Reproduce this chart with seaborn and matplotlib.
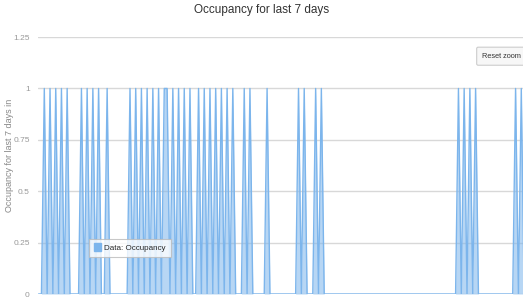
import numpy as np
import pandas as pd
import matplotlib.pyplot as plt
import seaborn as sns

# ----- Data (hourly samples, 1 = occupied) -----
n_hours = 172
occupied_hours = [2, 4, 6, 8, 10, 15, 17, 19, 21, 24,
                  32, 34, 36, 38, 40, 42, 44, 45, 47, 49, 51, 53, 56, 58,
                  60, 62, 64, 66, 68, 72, 74, 80, 91, 93, 97, 99,
                  147, 149, 151, 153, 167, 169]
y_ticks = [0, 0.25, 0.5, 0.75, 1, 1.25]
y_labels = ["0", "0.25", "0.5", "0.75", "1", "1.25"]

occ = np.zeros(n_hours)
occ[occupied_hours] = 1
df = pd.DataFrame({"hour": np.arange(n_hours), "occupancy": occ})

# ----- Plot -----
sns.set_style("white")
plt.rcParams["font.family"] = ["Liberation Sans", "DejaVu Sans"]

line_col = "#7cb5ec"
fig = plt.figure(figsize=(5.23, 2.99), dpi=100)
ax = fig.add_axes([0.0727, 0.0167, 0.9273, 0.8593])

sns.lineplot(data=df, x="hour", y="occupancy", ax=ax, color=line_col,
             linewidth=1.0, legend=False)
ax.fill_between(df["hour"], df["occupancy"], color=line_col, alpha=0.55, lw=0)

ax.set_xlim(-0.2, 169.6)
ax.set_ylim(0, 1.25)
ax.set_yticks(y_ticks)
ax.set_yticklabels(y_labels, fontsize=6, color="#999999")
ax.tick_params(axis="y", length=0, pad=6)
ax.set_xticks([])
ax.set_xlabel("")
ax.set_ylabel("Occupancy for last 7 days in", fontsize=6.5, color="#888888")
ax.yaxis.set_label_coords(-0.05, 0.54)
ax.yaxis.grid(True, color="#d8d8d8", linewidth=1)
for s in ax.spines.values():
    s.set_visible(False)

fig.suptitle("Occupancy for last 7 days", fontsize=8.5, color="#333333", y=0.985)

# legend box
patch = plt.Rectangle((0, 0), 1, 1, facecolor=line_col, edgecolor=line_col)
leg = fig.legend([patch], ["Data: Occupancy"], loc="center left",
                 bbox_to_anchor=(0.17, 0.172), fontsize=5.8, frameon=True,
                 fancybox=False, handlelength=0.9, handleheight=1.0,
                 handletextpad=0.4, borderpad=0.6, borderaxespad=0)
leg.get_frame().set_edgecolor("#bbbbbb")
leg.get_frame().set_linewidth(0.8)

# reset zoom button
fig.text(0.922, 0.812, "Reset zoom", fontsize=5.3, color="#333333",
         va="center", ha="left",
         bbox=dict(boxstyle="round,pad=0.75,rounding_size=0.2",
                   facecolor="#f7f7f7", edgecolor="#cccccc", linewidth=0.8))

fig.savefig("out.png", dpi=100)
